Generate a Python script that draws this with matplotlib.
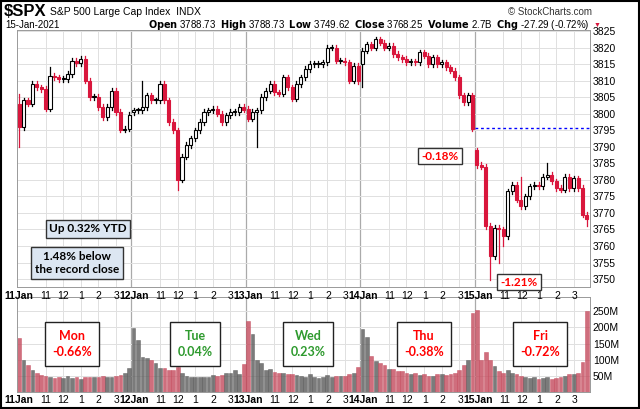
import numpy as np
import matplotlib.pyplot as plt
from matplotlib.patches import Rectangle

plt.rcParams["font.family"] = "Liberation Sans"

# 15-minute closes, 26 bars per session
closes_mon = [3796, 3804, 3803, 3809, 3808, 3807.5, 3801.5, 3811.5, 3811, 3810.5, 3810.5, 3812, 3816,
              3815.3, 3816.5, 3810, 3805, 3805, 3802, 3799, 3802, 3807, 3800.5, 3795.2, 3795.5, 3799.6]
closes_tue = [3801, 3801, 3802, 3805.5, 3804, 3804, 3809, 3804, 3797.5, 3795, 3780, 3787, 3790.5,
              3792.5, 3795, 3797.5, 3800.5, 3801, 3801.5, 3800, 3797.5, 3799.5, 3800.5, 3800.5, 3802, 3801.2]
closes_wed = [3798.5, 3800.5, 3801, 3805, 3807, 3809, 3806.5, 3806, 3811, 3808, 3804.5, 3809, 3811,
              3813.5, 3815, 3815, 3815, 3815.5, 3820, 3820, 3816, 3816, 3815.5, 3810, 3814.5, 3809.8]
closes_thu = [3819, 3821, 3820, 3822.5, 3821.5, 3820, 3820.5, 3818, 3817, 3816.5, 3815.5, 3815.8, 3815.5,
              3818.5, 3817.5, 3815, 3817, 3815, 3815.5, 3814, 3813, 3811, 3805.5, 3803.5, 3805.5, 3795.5]
closes_fri = [3784.5, 3784, 3766, 3757, 3765.5, 3765, 3763, 3776.5, 3778.5, 3774, 3772, 3775, 3778,
              3778.5, 3778, 3781, 3781.5, 3779.5, 3777.5, 3777, 3781, 3777.5, 3780.5, 3777.5, 3769.5, 3768.25]
session_opens = [3803, 3800.5, 3801.5, 3815, 3789]

vol_mon = [166, 99, 83, 68, 60, 53, 49, 47, 44, 47, 44, 49, 42, 47, 40, 45, 45, 47, 45, 50, 45, 45, 49, 53, 60, 73]
vol_tue = [197, 161, 107, 104, 99, 91, 75, 75, 68, 68, 76, 58, 49, 47, 47, 45, 47, 47, 53, 49, 53, 58, 60, 68, 55, 87]
vol_wed = [219, 180, 100, 90, 68, 72, 62, 58, 58, 55, 55, 52, 50, 45, 55, 45, 42, 45, 52, 45, 48, 48, 50, 55, 60, 78]
vol_thu = [195, 170, 112, 95, 90, 85, 72, 70, 66, 65, 60, 55, 58, 52, 55, 50, 50, 55, 55, 52, 55, 60, 68, 85, 100, 243]
vol_fri = [255, 100, 125, 100, 80, 65, 60, 68, 60, 55, 48, 45, 42, 45, 40, 42, 45, 40, 42, 45, 50, 55, 55, 60, 92, 250]

extra_lows = {0: 3790, 36: 3777, 54: 3790, 78: 3808, 107: 3749.6, 109: 3755, 110: 3760, 129: 3766}
extra_highs = {0: 3806, 7: 3814, 28: 3810, 104: 3789.5, 114: 3781, 120: 3785}

day_labels = ["11Jan", "12Jan", "13Jan", "14Jan", "15Jan"]
hour_labels = ["11", "12", "1", "2", "3"]
day_changes = ["Mon\n-0.66%", "Tue\n0.04%", "Wed\n0.23%", "Thu\n-0.38%", "Fri\n-0.72%"]
prev_close = 3824.68
last_thu_close = 3795.54

closes = closes_mon + closes_tue + closes_wed + closes_thu + closes_fri
volumes = vol_mon + vol_tue + vol_wed + vol_thu + vol_fri
n = len(closes)

RED = "#d9163c"
fig = plt.figure(figsize=(6.4, 4.09), dpi=100)
ax = fig.add_axes([17 / 640, 1 - 287 / 409, 573 / 640, 257 / 409])
axv = fig.add_axes([17 / 640, 1 - 392 / 409, 573 / 640, 95 / 409])

prev = prev_close
colors = []
for i, c in enumerate(closes):
    o = session_opens[i // 26] if i % 26 == 0 else closes[i - 1]
    hi = extra_highs.get(i, max(o, c) + 0.8)
    lo = extra_lows.get(i, min(o, c) - 0.8)
    col = RED if c < prev else "black"
    colors.append(col)
    ax.plot([i, i], [lo, hi], color=col, lw=0.9, zorder=2)
    body = max(abs(c - o), 0.3)
    face = col if c < o else "white"
    ax.add_patch(Rectangle((i - 0.35, min(o, c)), 0.7, body, facecolor=face,
                           edgecolor=col, lw=0.8, zorder=3))
    prev = c

vcols = ["#c44a5c" if c == RED else "#5a5a5a" for c in colors]
axv.bar(range(n), volumes, width=0.85, color=vcols, alpha=0.8, edgecolor=vcols, lw=0.4)

day_pos = [26 * k - 0.5 for k in range(5)]
hour_pos = [26 * k + h for k in range(5) for h in (6, 10, 14, 18, 22)]
for a in (ax, axv):
    a.set_xlim(-0.5, n - 0.3)
    a.set_xticks(day_pos + hour_pos)
    a.set_xticklabels([])
    for x in day_pos[1:]:
        a.axvline(x, color="#aaaaaa", lw=0.9, zorder=0)
    for x in hour_pos:
        a.axvline(x, color="#e0e0e0", lw=0.7, zorder=0)
    a.tick_params(axis="x", length=0)
    a.yaxis.tick_right()
    a.tick_params(axis="y", labelsize=7.5, length=0, pad=2)
    for s in a.spines.values():
        s.set_color("#999999")
        s.set_linewidth(0.7)

ax.set_ylim(3747.6, 3825.3)
ax.set_yticks(np.arange(3750, 3826, 5))
ax.grid(axis="y", color="#e0e0e0", lw=0.7)
ax.set_axisbelow(True)
axv.set_ylim(0, 294)
axv.set_yticks([50, 100, 150, 200, 250])
axv.set_yticklabels(["50M", "100M", "150M", "200M", "250M"])
axv.grid(axis="y", color="#e0e0e0", lw=0.7)
axv.set_axisbelow(True)

for ypix in (296, 400):
    for k, lab in enumerate(day_labels):
        fig.text((17 + (day_pos[k] + 0.5) * 4.41 + 2) / 640, 1 - ypix / 409, lab,
                 fontsize=7.5, fontweight="bold", ha="center", va="center")
        for h, hl in zip((6, 10, 14, 18, 22), hour_labels):
            fig.text((17 + (26 * k + h + 0.5) * 4.41) / 640, 1 - ypix / 409, hl,
                     fontsize=7.5, ha="center", va="center")

ax.plot([104 - 0.5, n], [last_thu_close, last_thu_close], color="blue", ls=(0, (2, 2)), lw=1)

fig.text(4 / 640, 1 - 12 / 409, "$SPX", fontsize=12, fontweight="bold", va="center")
fig.text(50 / 640, 1 - 12 / 409, "S&P 500 Large Cap Index  INDX", fontsize=7.5, va="center")
fig.text(5 / 640, 1 - 25 / 409, "15-Jan-2021", fontsize=7, va="center")
fig.text(590 / 640, 1 - 25 / 409,
         r"$\bf{Open}$ 3788.73  $\bf{High}$ 3788.73  $\bf{Low}$ 3749.62  $\bf{Close}$ 3768.25  "
         r"$\bf{Volume}$ 2.7B  $\bf{Chg}$ -27.29 (-0.72%)", fontsize=7, ha="right", va="center")
fig.text(594 / 640, 1 - 25 / 409, "▼", color=RED, fontsize=5, va="center")
fig.text(592 / 640, 1 - 12 / 409, "© StockCharts.com", fontsize=7, ha="right", va="center", color="#333333")

box = dict(boxstyle="square,pad=0.3", fc="#dce6f2", ec="#333333", lw=1)
fig.text(88 / 640, 1 - 229 / 409, "Up 0.32% YTD", fontsize=8.5, fontweight="bold",
         ha="center", va="center", family="Lato", bbox=dict(box, pad=0.35))
fig.text(77 / 640, 1 - 263 / 409, "1.48% below\nthe record close", fontsize=8.5, fontweight="bold",
         ha="center", va="center", family="Lato", linespacing=1.3, bbox=box)
call = dict(boxstyle="square,pad=0.25", fc="white", ec="#333333", lw=1)
fig.text(440 / 640, 1 - 156 / 409, "-0.18%", fontsize=8.5, fontweight="bold", color="red",
         ha="center", va="center", family="Lato", bbox=call)
fig.text(519 / 640, 1 - 282 / 409, "-1.21%", fontsize=8.5, fontweight="bold", color="red",
         ha="center", va="center", family="Lato", bbox=call)

day_x = [72, 195, 308, 424, 540]
for x, txt in zip(day_x, day_changes):
    col = "#2e9a2e" if "-" not in txt else "red"
    fig.text(x / 640, 1 - 344 / 409, txt, fontsize=9, fontweight="bold", color=col, family="Lato",
             ha="center", va="center", linespacing=1.5,
             bbox=dict(boxstyle="square,pad=0.6", fc="white", ec="#222222", lw=1))

fig.add_artist(Rectangle((0.002, 0.002), 0.996, 0.996, transform=fig.transFigure,
                         fill=False, ec="black", lw=1.5))
fig.savefig("out.png", dpi=100)
